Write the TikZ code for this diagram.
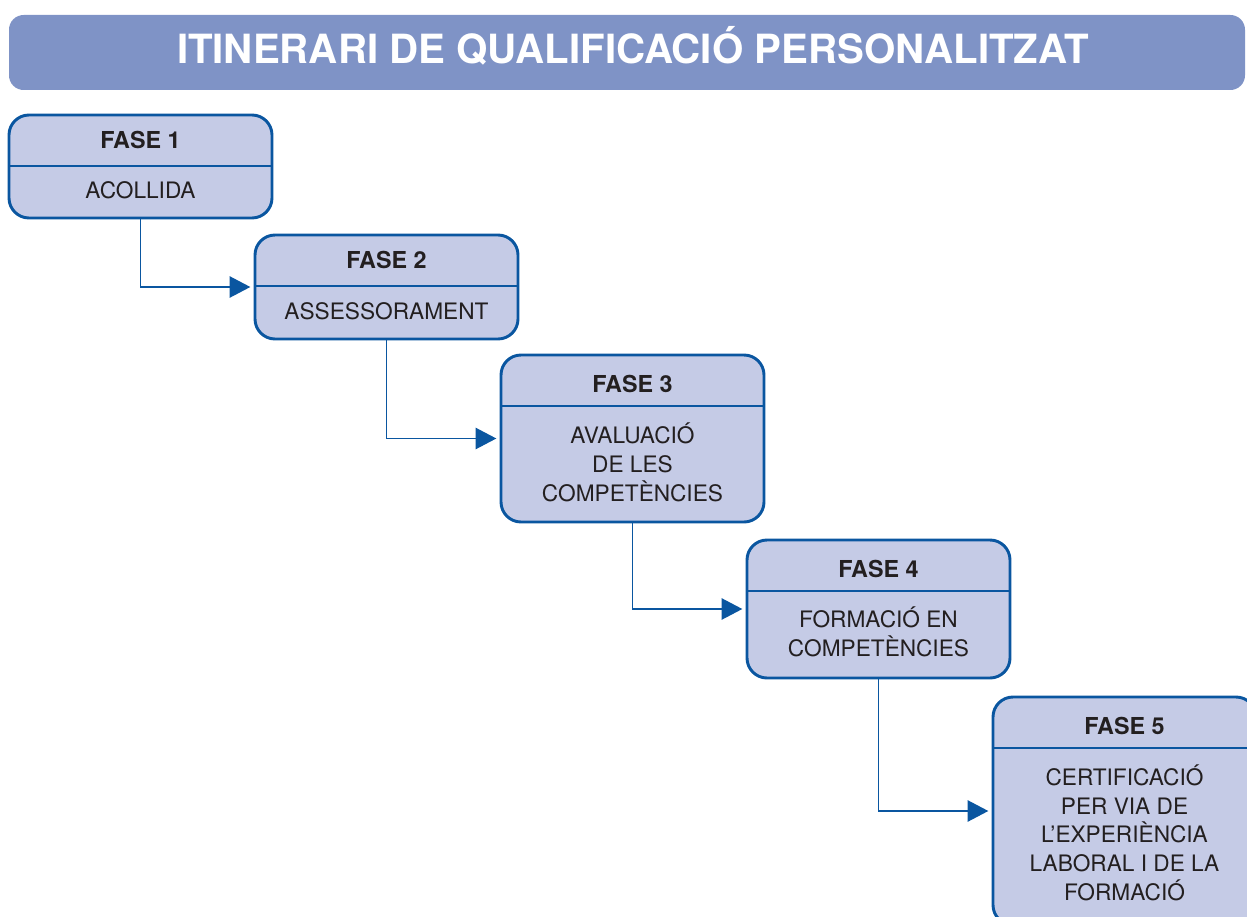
\documentclass[tikz,border=0pt]{standalone}
\usepackage{fontspec}
\setmainfont{TeX Gyre Heros}
\usetikzlibrary{arrows.meta}
\definecolor{barblue}{HTML}{7F93C6}
\definecolor{boxfill}{HTML}{C5CBE6}
\definecolor{boxblue}{HTML}{0A56A0}
\definecolor{ink}{HTML}{231F20}
\tikzset{
  phasebox/.style={draw=boxblue,fill=boxfill,line width=2.2pt,rounded corners=15pt,
    minimum width=197.25pt,inner sep=0pt,outer sep=0pt},
  phasehead/.style={text=ink,font=\fontsize{17.5}{21}\selectfont\bfseries,
    inner sep=0pt,text height=12.6pt,text depth=0pt},
  phasetext/.style={text=ink,font=\fontsize{17}{21.4}\selectfont,align=center,
    inner sep=0pt,anchor=base},
  divider/.style={draw=boxblue,line width=2pt},
  flowline/.style={draw=boxblue,line width=1pt,-{Triangle[length=15.5pt,width=16pt]},
    shorten >=3.5pt}
}

\begin{document}
\begin{tikzpicture}[x=0.75pt,y=-0.75pt]
  \useasboundingbox (0,0) rectangle (1247,917);

  % title
  \node[fill=barblue,rounded corners=11pt,minimum width=927pt,minimum height=56.25pt,
    inner sep=0pt] (bar) at (627,52.5) {};
  \node[text=white,font=\fontsize{30.2}{33}\selectfont\bfseries,inner sep=0pt,
    text height=21.7pt,text depth=0pt] (title) at (633,49.5)
    {ITINERARI DE QUALIFICACIÓ PERSONALITZAT};

  % phase boxes
  \node[phasebox,minimum height=77.25pt] (f1) at (140.5,166.5) {};
  \node[phasebox,minimum height=78pt] (f2) at (386.5,287) {};
  \node[phasebox,minimum height=125.25pt] (f3) at (632.5,438.5) {};
  \node[phasebox,minimum height=103.5pt] (f4) at (878.5,609) {};
  \node[phasebox,minimum height=171pt] (f5) at (1124.5,811) {};

  \foreach \f in {f1,f2,f3,f4,f5}
    \draw[divider] ([yshift=-38.25pt]\f.north west) -- ([yshift=-38.25pt]\f.north east);

  \node[phasehead] (h1) at ([yshift=-18.8pt]f1.north) {FASE 1};
  \node[phasehead] (h2) at ([yshift=-18.8pt]f2.north) {FASE 2};
  \node[phasehead] (h3) at ([yshift=-22.1pt]f3.north) {FASE 3};
  \node[phasehead] (h4) at ([yshift=-22.1pt]f4.north) {FASE 4};
  \node[phasehead] (h5) at ([yshift=-22.1pt]f5.north) {FASE 5};

  % base = baseline of the last line
  \node[phasetext] (t1) at (140.5,199) {ACOLLIDA};
  \node[phasetext] (t2) at (386.5,319) {ASSESSORAMENT};
  \node[phasetext] (t3) at (632.5,501) {AVALUACIÓ\\DE LES\\COMPETÈNCIES};
  \node[phasetext] (t4) at (878.5,656.5) {FORMACIÓ EN\\COMPETÈNCIES};
  \node[phasetext] (t5) at (1124.5,900)
    {CERTIFICACIÓ\\PER VIA DE\\L’EXPERIÈNCIA\\LABORAL I DE LA\\FORMACIÓ};

  % connectors
  \draw[flowline] (f1.south) |- (f2.west);
  \draw[flowline] (f2.south) |- (f3.west);
  \draw[flowline] (f3.south) |- (f4.west);
  \draw[flowline] (f4.south) |- (f5.west);
\end{tikzpicture}
\end{document}
